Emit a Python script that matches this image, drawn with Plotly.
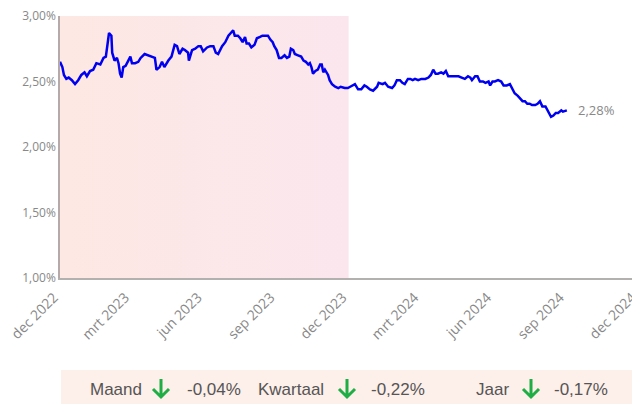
import datetime as dt
import plotly.graph_objects as go

# ---------------- data ----------------
START = "2022-12-01"
days_since_start = [
    0, 3, 5, 8, 11, 15, 19, 23, 27, 31, 34, 38, 42, 46, 51, 55, 58, 60, 62, 65,
    66, 69, 72, 74, 76, 78, 80, 83, 86, 89, 91, 95, 99, 102, 107, 111, 116, 120, 122, 126,
    129, 132, 137, 141, 145, 148, 151, 155, 158, 162, 163, 167, 171, 175, 178, 181, 186, 190, 194, 197,
    200, 205, 209, 213, 216, 219, 221, 225, 228, 231, 234, 236, 239, 242, 246, 249, 253, 256, 259, 263,
    266, 269, 271, 274, 277, 280, 284, 287, 290, 292, 295, 297, 301, 305, 308, 311, 314, 316, 318, 320,
    323, 326, 329, 331, 333, 335, 339, 341, 344, 348, 352, 355, 360, 364, 367, 370, 373, 377, 381, 385,
    388, 392, 396, 401, 403, 408, 411, 415, 420, 423, 426, 430, 433, 436, 440, 443, 446, 449, 453, 457,
    462, 466, 469, 472, 475, 478, 482, 485, 488, 491, 495, 500, 504, 508, 512, 516, 519, 521, 525, 528,
    531, 535, 538, 542, 544, 547, 550, 554, 558, 561, 565, 569, 572, 575, 579, 582, 585, 588, 591, 594,
    597, 601, 604, 607, 610, 614, 618, 621, 624, 627, 630, 634, 636, 641,
]
rate_pct = [
    2.65, 2.61, 2.55, 2.52, 2.53, 2.51, 2.48, 2.51, 2.55, 2.57, 2.54, 2.58, 2.59, 2.64, 2.63, 2.68, 2.69, 2.79, 2.87, 2.85,
    2.72, 2.66, 2.68, 2.64, 2.56, 2.53, 2.61, 2.62, 2.65, 2.69, 2.64, 2.64, 2.65, 2.68, 2.71, 2.70, 2.69, 2.68, 2.59, 2.61,
    2.65, 2.61, 2.66, 2.69, 2.78, 2.77, 2.71, 2.75, 2.74, 2.72, 2.66, 2.74, 2.75, 2.77, 2.77, 2.73, 2.76, 2.77, 2.77, 2.72,
    2.71, 2.77, 2.80, 2.85, 2.87, 2.89, 2.85, 2.85, 2.83, 2.80, 2.84, 2.79, 2.79, 2.76, 2.78, 2.83, 2.84, 2.85, 2.85, 2.85,
    2.82, 2.80, 2.77, 2.74, 2.68, 2.68, 2.70, 2.68, 2.69, 2.75, 2.74, 2.71, 2.70, 2.69, 2.66, 2.65, 2.63, 2.64, 2.61, 2.56,
    2.58, 2.59, 2.63, 2.63, 2.57, 2.59, 2.55, 2.51, 2.48, 2.46, 2.45, 2.46, 2.45, 2.45, 2.46, 2.47, 2.48, 2.44, 2.44, 2.47,
    2.46, 2.44, 2.43, 2.46, 2.49, 2.48, 2.49, 2.46, 2.45, 2.47, 2.51, 2.51, 2.49, 2.48, 2.52, 2.52, 2.51, 2.52, 2.51, 2.52,
    2.52, 2.53, 2.55, 2.59, 2.56, 2.56, 2.57, 2.56, 2.58, 2.54, 2.54, 2.54, 2.54, 2.53, 2.52, 2.54, 2.53, 2.51, 2.54, 2.54,
    2.50, 2.50, 2.49, 2.50, 2.47, 2.50, 2.50, 2.51, 2.50, 2.47, 2.47, 2.48, 2.44, 2.41, 2.39, 2.37, 2.35, 2.35, 2.33, 2.33,
    2.32, 2.32, 2.33, 2.35, 2.31, 2.31, 2.27, 2.23, 2.24, 2.26, 2.26, 2.28, 2.27, 2.28,
]

SHADE_START = "2022-12-01"
SHADE_END = "2023-12-01"

tick_dates = ["2022-12-01", "2023-03-01", "2023-06-01", "2023-09-01", "2023-12-01",
              "2024-03-01", "2024-06-01", "2024-09-01", "2024-12-01"]
tick_labels = ["dec 2022", "mrt 2023", "jun 2023", "sep 2023", "dec 2023",
               "mrt 2024", "jun 2024", "sep 2024", "dec 2024"]
y_ticks = [1.0, 1.5, 2.0, 2.5, 3.0]
y_labels = ["1,00%", "1,50%", "2,00%", "2,50%", "3,00%"]

summary_labels = ["Maand", "Kwartaal", "Jaar"]
summary_changes = [-0.04, -0.22, -0.17]

# ---------------- layout helpers ----------------
# the page body has an 8px margin, so the figure is sized to end at the window edge
OFF = 8
WIN_W, WIN_H = 640, 404
W, H = WIN_W - OFF, WIN_H - OFF
PLOT_L, PLOT_R, PLOT_T, PLOT_B = 60, 638, 16, 278   # screen pixels
ML, MR, MT, MB = PLOT_L - OFF, WIN_W - PLOT_R, PLOT_T - OFF, WIN_H - PLOT_B
PW, PH = PLOT_R - PLOT_L, PLOT_B - PLOT_T


def px(x):
    return (x - PLOT_L) / PW


def py(y):
    return (PLOT_B - y) / PH


def fmt(v):
    return f"{v:.2f}".replace(".", ",") + "%"


# ---------------- figure ----------------
start = dt.date.fromisoformat(START)
dates = [start + dt.timedelta(days=d) for d in days_since_start]

fig = go.Figure()

fig.add_trace(go.Scatter(
    x=[SHADE_START, SHADE_END, SHADE_END, SHADE_START, SHADE_START],
    y=[y_ticks[0], y_ticks[0], y_ticks[-1], y_ticks[-1], y_ticks[0]],
    fill="toself", mode="lines", line=dict(width=0),
    fillgradient=dict(type="horizontal",
                      colorscale=[[0, "#fde8e3"], [1, "#fbe6ee"]]),
    hoverinfo="skip", showlegend=False,
))

fig.add_trace(go.Scatter(
    x=dates, y=rate_pct, mode="lines",
    line=dict(color="#0000f0", width=2.5),
    showlegend=False,
))

annotations = [dict(
    x=dates[-1], y=rate_pct[-1], xref="x", yref="y",
    text=fmt(rate_pct[-1]), showarrow=False, xanchor="left", xshift=9,
    font=dict(family="Open Sans", size=13, color="#888888"),
)]

shapes = [dict(type="rect", xref="paper", yref="paper",
               x0=px(61), x1=px(641), y0=py(370), y1=py(405),
               fillcolor="#fdefe9", line=dict(width=0), layer="below")]

text_y = 389
label_left = [88, 256, 474]
arrow_cx = [161, 347, 531]
value_left = [185, 369, 552]
tfont = dict(family="Liberation Sans", size=17, color="#555555")
for lab, chg, lx, ax, vx in zip(summary_labels, summary_changes, label_left, arrow_cx, value_left):
    annotations.append(dict(x=px(lx), y=py(text_y), xref="paper", yref="paper", text=lab,
                            showarrow=False, xanchor="left", yanchor="middle", font=tfont))
    annotations.append(dict(x=px(vx), y=py(text_y), xref="paper", yref="paper", text=fmt(chg),
                            showarrow=False, xanchor="left", yanchor="middle", font=tfont))
    top, bot, hw = 379, 397, 8
    sign = 1 if chg < 0 else -1
    tip = bot if chg < 0 else top
    tail = top if chg < 0 else bot
    path = (f"M {px(ax)},{py(tail)} L {px(ax)},{py(tip)} "
            f"M {px(ax - hw)},{py(tip - sign * hw)} L {px(ax)},{py(tip)} "
            f"L {px(ax + hw)},{py(tip - sign * hw)}")
    shapes.append(dict(type="path", xref="paper", yref="paper", path=path,
                       line=dict(color="#1fae45", width=3)))

fig.update_layout(
    width=W, height=H,
    margin=dict(l=ML, r=MR, t=MT, b=MB, autoexpand=False),
    paper_bgcolor="white", plot_bgcolor="white",
    annotations=annotations, shapes=shapes,
)
fig.update_xaxes(
    range=[tick_dates[0], tick_dates[-1]],
    tickvals=tick_dates, ticktext=tick_labels, tickangle=-45,
    tickfont=dict(family="Open Sans", size=14, color="#888888"),
    ticklabeloverflow="allow", automargin=False,
    ticklabelshift=-6, ticklabelstandoff=4,
    showgrid=False, zeroline=False, showline=True, linecolor="#b3b0b0", linewidth=1.5,
    ticks="",
)
fig.update_yaxes(
    range=[y_ticks[0], y_ticks[-1]],
    tickvals=y_ticks, ticktext=y_labels,
    tickfont=dict(family="Open Sans", size=12, color="#888888"),
    ticklabeloverflow="allow", automargin=False,
    showgrid=False, zeroline=False, showline=True, linecolor="#b5aaaa", linewidth=1.5,
    ticks="",
)

fig.write_html("out.html")
